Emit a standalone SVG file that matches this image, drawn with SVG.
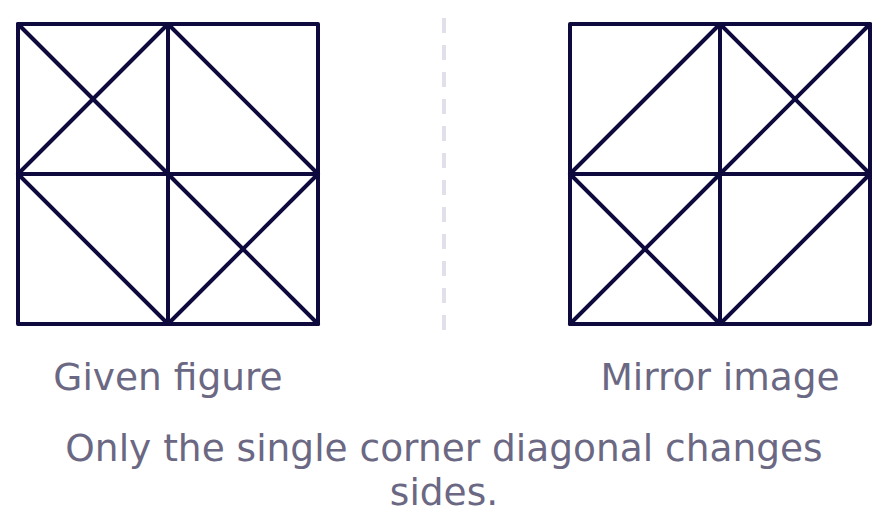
<svg xmlns="http://www.w3.org/2000/svg" width="888" height="528" viewBox="0 0 888 528">
<style>
.fig{fill:none;stroke:#0f0a3d;stroke-width:4;stroke-linecap:round;stroke-linejoin:round}
.lbl{font-family:"DejaVu Sans",sans-serif;font-size:37.5px;fill:#6b6883;text-anchor:middle}
</style>
<rect width="888" height="528" fill="#ffffff"/>
<g id="divider">
<line x1="444" y1="18" x2="444" y2="330" stroke="#e1e0ea" stroke-width="4" stroke-dasharray="15 12"/>
</g>
<g id="given-figure" class="fig">
<rect x="18" y="24" width="300" height="300"/>
<line x1="168" y1="24" x2="168" y2="324"/>
<line x1="18" y1="174" x2="318" y2="174"/>
<line x1="18" y1="24" x2="168" y2="174"/>
<line x1="168" y1="24" x2="18" y2="174"/>
<line x1="168" y1="24" x2="318" y2="174"/>
<line x1="18" y1="174" x2="168" y2="324"/>
<line x1="168" y1="174" x2="318" y2="324"/>
<line x1="318" y1="174" x2="168" y2="324"/>
</g>
<g id="mirror-image" class="fig">
<rect x="570" y="24" width="300" height="300"/>
<line x1="720" y1="24" x2="720" y2="324"/>
<line x1="570" y1="174" x2="870" y2="174"/>
<line x1="570" y1="174" x2="720" y2="24"/>
<line x1="720" y1="24" x2="870" y2="174"/>
<line x1="870" y1="24" x2="720" y2="174"/>
<line x1="570" y1="174" x2="720" y2="324"/>
<line x1="720" y1="174" x2="570" y2="324"/>
<line x1="720" y1="324" x2="870" y2="174"/>
</g>
<g id="labels">
<text class="lbl" x="168" y="390">Given figure</text>
<text class="lbl" x="720" y="390">Mirror image</text>
<text class="lbl" x="444" y="461">Only the single corner diagonal changes</text>
<text class="lbl" x="444" y="505">sides.</text>
</g>
</svg>
